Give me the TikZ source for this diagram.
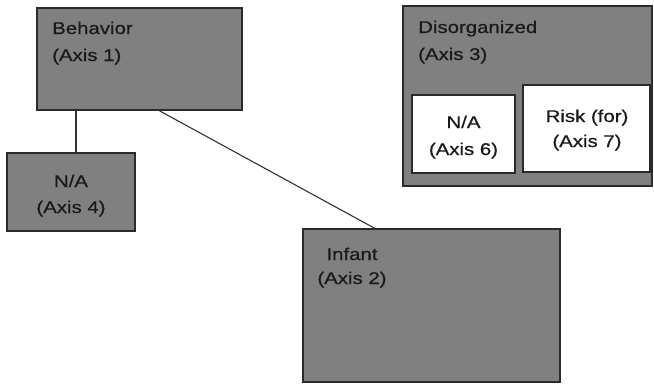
\documentclass[tikz,border=0pt]{standalone}
\usepackage{fontspec}
\setmainfont{Liberation Sans}[FakeStretch=1.2,FakeBold=0.6]
\definecolor{boxgray}{HTML}{808080}
\definecolor{edgegray}{HTML}{2B2B2B}
\definecolor{linegray}{HTML}{333333}
\definecolor{inkgray}{HTML}{1A1A1A}
\begin{document}
\begin{tikzpicture}[x=1pt,y=-1pt,
  graybox/.style={draw=edgegray,fill=boxgray,line width=1.6pt,inner sep=0pt,rectangle},
  whitebox/.style={draw=edgegray,fill=white,line width=1.6pt,inner sep=0pt,rectangle},
  txt/.style={inner sep=0pt,text=inkgray,font=\fontsize{17}{20}\selectfont},
  conn/.style={draw=linegray,line width=1.1pt}]
\useasboundingbox (0,0) rectangle (654,384);
\fill[white] (0,0) rectangle (654,384);
% boxes
\node[graybox,minimum width=205pt,minimum height=102pt] (beh) at (139.5,59) {};
\node[graybox,minimum width=128pt,minimum height=78pt] (n4) at (71,192) {};
\node[graybox,minimum width=257pt,minimum height=153pt] (inf) at (431.5,305.5) {};
\node[graybox,minimum width=249pt,minimum height=180pt] (dis) at (527.5,96) {};
\node[whitebox,minimum width=103pt,minimum height=78pt] (n6) at (463.5,134) {};
\node[whitebox,minimum width=127pt,minimum height=87pt] (risk) at (586.5,128.5) {};
% texts
\node[txt,anchor=base west] (behA) at (52,34) {Behavior};
\node[txt,anchor=base west] (behB) at (52,61) {(Axis 1)};
\node[txt,anchor=base] (n4A) at (71,187) {N/A};
\node[txt,anchor=base] (n4B) at (71,213) {(Axis 4)};
\node[txt,anchor=base] (infA) at (352,260) {Infant};
\node[txt,anchor=base] (infB) at (352,284) {(Axis 2)};
\node[txt,anchor=base west] (disA) at (418,33) {Disorganized};
\node[txt,anchor=base west] (disB) at (418,60) {(Axis 3)};
\node[txt,anchor=base] (n6A) at (463.5,128) {N/A};
\node[txt,anchor=base] (n6B) at (463.5,155) {(Axis 6)};
\node[txt,anchor=base] (riskA) at (587,122) {Risk (for)};
\node[txt,anchor=base] (riskB) at (587,147) {(Axis 7)};
% connectors
\draw[conn] ([xshift=5pt]n4.north) -- ([xshift=5pt]n4.north |- beh.south);
\draw[conn] ([xshift=20pt]beh.south) -- ([xshift=-57pt]inf.north);
\end{tikzpicture}
\end{document}
